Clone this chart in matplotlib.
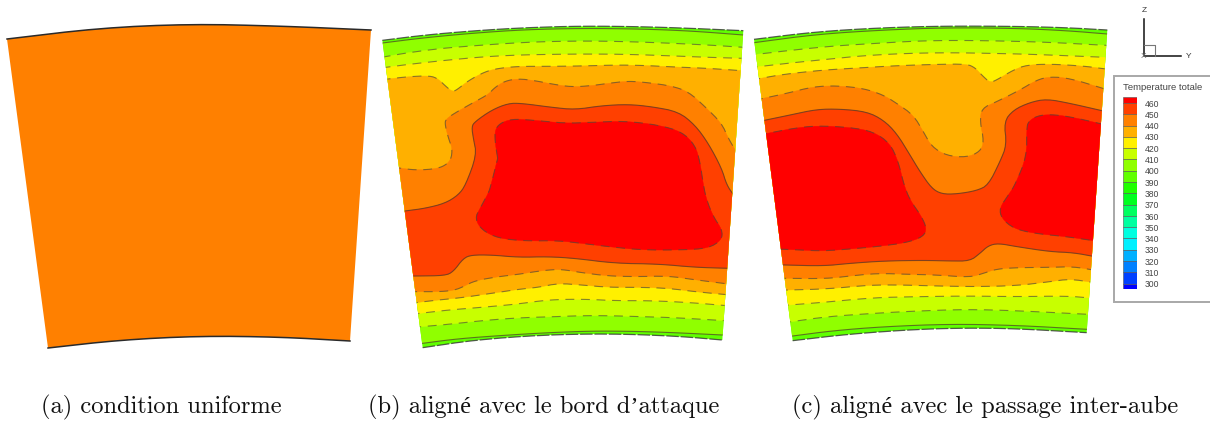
import numpy as np
import matplotlib
matplotlib.use("Agg")
import matplotlib.pyplot as plt
from matplotlib.patches import Polygon, Rectangle

W, H = 1210, 421

# ---------- legend data ----------
levels = [460, 450, 440, 430, 420, 410, 400, 390, 380, 370, 360, 350, 340, 330, 320, 310, 300]
band_colors = ["#FF0000", "#FF4000", "#FF8000", "#FFB000", "#FFF000", "#C8FF00", "#90FF00", "#60FF00",
               "#20FF00", "#00FF20", "#00FF60", "#00FFA0", "#00FFE0", "#00F0FF", "#00B0FF", "#0080FF",
               "#0040FF", "#0000FF"]
legend_title = "Temperature totale"
captions = ["(a) condition uniforme", "(b) aligné avec le bord d\u2019attaque", "(c) aligné avec le passage inter-aube"]

# ---------- digitised geometry, at 3x in crops ----------
# Panel a outline
a_top = [(7, 39), (100, 28), (190, 24), (280, 26), (371, 30)]
a_bot = [(48, 348), (120, 340), (200, 336), (280, 337), (350, 341)]

# Panel b, upper crop origin (375,15), lower crop origin (375,180)
b_edge_top = [(22, 76), (150, 60), (300, 47), (450, 38), (620, 33), (800, 35), (950, 40), (1105, 47)]
b_edge_bot = [(143, 503), (300, 480), (500, 465), (700, 461), (900, 468), (1042, 480)]
b_400_up = [(22, 84), (150, 68), (300, 54), (450, 44), (620, 40), (800, 42), (950, 48), (1105, 60)]
b_410_up = [(48, 122), (100, 113), (200, 100), (300, 92), (400, 85), (500, 80), (620, 78), (720, 79), (850, 83), (1000, 90), (1105, 97)]
b_420_up = [(48, 155), (110, 147), (220, 135), (330, 125), (430, 120), (530, 118), (640, 117), (760, 118), (900, 123), (1000, 127), (1103, 130)]
b_430_up = [(48, 191), (100, 185), (165, 182), (190, 192), (210, 212), (232, 230), (245, 225), (280, 197), (330, 170), (370, 160), (430, 154), (520, 154), (620, 153), (720, 150), (800, 151), (900, 156), (1000, 160), (1100, 167)]
b_440_up = [(80, 460), (120, 465), (170, 463), (205, 455), (228, 435), (232, 400), (222, 375), (210, 330), (212, 312), (250, 288), (300, 260), (340, 238), (360, 217), (390, 198), (430, 191), (480, 197), (530, 207), (590, 216), (650, 212), (700, 205), (760, 198), (820, 203), (890, 213), (940, 230), (990, 275), (1040, 325), (1060, 370), (1085, 412)]
b_450_up_a = [(97, 92), (150, 85), (210, 70), (250, 45), (272, 15)]
b_450_up_b = [(305, 420), (295, 370), (290, 335), (300, 320), (350, 285), (400, 265), (440, 265), (530, 277), (600, 284), (680, 272), (760, 268), (830, 275), (910, 290), (960, 330), (1000, 385), (1040, 460)]
b_450_up_c = [(1055, 15), (1078, 48)]
b_460_a = [(368, 430), (360, 380), (360, 345), (375, 325), (410, 312), (470, 315), (570, 325), (650, 322), (750, 318), (850, 330), (920, 350), (960, 390), (975, 440)]
b_460_b = [(985, 15), (995, 60), (1015, 110), (1042, 150), (1040, 180), (1000, 205), (920, 210), (800, 210), (700, 200), (620, 190), (550, 182), (450, 183), (370, 175), (320, 150), (300, 115), (315, 85), (340, 40), (348, 15)]
b_450_lo = [(124, 288), (210, 287), (235, 275), (265, 235), (290, 225), (350, 225), (430, 232), (520, 230), (600, 235), (720, 250), (850, 252), (960, 262), (1062, 265)]
b_440_lo = [(128, 335), (200, 335), (240, 330), (265, 320), (300, 302), (370, 290), (430, 283), (480, 275), (520, 270), (560, 268), (620, 278), (700, 288), (780, 290), (880, 288), (950, 298), (1060, 312)]
b_430_lo = [(130, 367), (190, 360), (260, 353), (350, 340), (430, 328), (490, 322), (550, 310), (620, 315), (700, 322), (800, 322), (880, 325), (960, 335), (1055, 344)]
b_420_lo = [(135, 400), (220, 390), (320, 382), (420, 373), (500, 362), (560, 358), (640, 358), (720, 362), (830, 362), (950, 368), (1055, 377)]
b_410_lo = [(140, 440), (220, 433), (340, 420), (440, 413), (540, 410), (620, 407), (700, 407), (800, 410), (900, 413), (1050, 422)]
b_400_lo = [(143, 490), (250, 476), (400, 465), (520, 458), (650, 453), (780, 454), (900, 458), (1042, 465)]

# Panel c, upper crop origin (750,15), lower crop origin (750,180)
c_edge_top = [(12, 73), (200, 50), (400, 38), (590, 33), (800, 34), (950, 38), (1072, 45)]
c_edge_bot = [(128, 482), (300, 462), (500, 448), (650, 444), (800, 446), (1010, 458)]
c_400_up = [(12, 83), (200, 58), (400, 45), (590, 38), (800, 40), (950, 47), (1072, 57)]
c_410_up = [(20, 118), (130, 105), (250, 93), (380, 85), (500, 78), (620, 76), (760, 78), (900, 82), (1068, 91)]
c_420_up = [(25, 155), (130, 143), (240, 132), (340, 122), (470, 115), (600, 113), (720, 115), (850, 118), (1068, 127)]
c_430_up = [(32, 190), (100, 178), (220, 165), (340, 158), (440, 152), (560, 148), (650, 147), (675, 158), (695, 180), (720, 203), (740, 195), (790, 165), (830, 150), (900, 147), (1000, 153), (1068, 162)]
c_440_up = [(40, 250), (110, 235), (190, 215), (260, 212), (340, 220), (400, 240), (440, 265), (490, 300), (520, 350), (545, 395), (590, 422), (650, 427), (690, 410), (702, 380), (690, 320), (695, 280), (740, 260), (810, 225), (860, 195), (900, 185), (960, 190), (1065, 222)]
c_450_up_a = [(48, 315), (120, 300), (200, 283), (270, 282), (350, 290), (400, 315), (440, 355), (480, 420), (510, 470)]
c_450_up_b = [(545, 25), (575, 42), (620, 42), (680, 32), (715, 15)]
c_450_up_c = [(750, 440), (770, 390), (762, 320), (790, 285), (840, 262), (890, 252), (960, 265), (1060, 288)]
c_460L_a = [(52, 355), (130, 340), (200, 332), (300, 337), (370, 350), (420, 385), (445, 440)]
c_460L_b = [(462, 15), (480, 60), (515, 110), (530, 145), (520, 170), (470, 188), (380, 200), (300, 207), (220, 213), (150, 210), (102, 208)]
c_460R_a = [(1037, 183), (950, 170), (850, 160), (790, 145), (755, 115), (748, 85), (775, 45), (795, 15)]
c_460R_b = [(830, 425), (830, 340), (835, 320), (860, 303), (900, 298), (960, 305), (1060, 328)]
c_450_lo = [(107, 255), (220, 258), (300, 250), (400, 243), (520, 241), (600, 243), (660, 243), (690, 220), (715, 197), (745, 190), (800, 200), (900, 215), (970, 218), (1035, 230)]
c_440_lo = [(110, 295), (230, 296), (300, 288), (380, 280), (480, 283), (560, 285), (660, 292), (700, 280), (740, 267), (800, 263), (900, 262), (970, 260), (1030, 270)]
c_430_lo = [(115, 330), (230, 327), (360, 315), (460, 315), (560, 318), (680, 320), (800, 317), (900, 305), (960, 297), (1027, 307)]
c_420_lo = [(118, 375), (220, 367), (370, 353), (500, 350), (650, 348), (800, 350), (950, 348), (1022, 354)]
c_410_lo = [(125, 425), (230, 410), (370, 400), (500, 393), (650, 388), (800, 392), (1015, 403)]
c_400_lo = [(128, 468), (250, 452), (400, 440), (600, 432), (800, 436), (1012, 448)]


def crop(pts, ox, oy):
    return np.array(pts, float) / 3.0 + np.array([ox, oy])


def smooth(p, n=2):
    p = np.asarray(p, float)
    for _ in range(n):
        q = 0.75 * p[:-1] + 0.25 * p[1:]
        r = 0.25 * p[:-1] + 0.75 * p[1:]
        m = np.empty((2 * len(q), 2))
        m[0::2], m[1::2] = q, r
        p = np.vstack([p[0], m, p[-1]])
    return p


def extend(p, d=25):
    a = p[0] + (p[0] - p[1]) / np.linalg.norm(p[0] - p[1]) * d
    b = p[-1] + (p[-1] - p[-2]) / np.linalg.norm(p[-1] - p[-2]) * d
    return np.vstack([a, p, b])


fig = plt.figure(figsize=(W / 100, H / 100), dpi=100)
ax = fig.add_axes([0, 0, 1, 1])
ax.set_xlim(0, W)
ax.set_ylim(H, 0)
ax.axis("off")

LINE = dict(color="#4a3a2a", lw=0.8, alpha=0.7)
DASH = dict(color="#4a4a3a", lw=0.8, alpha=0.65, dashes=(8, 6))
col = dict(zip([460, 450, 440, 430, 420, 410, 400, 390], band_colors))


def sector(top, bot):
    p = np.vstack([smooth(top), smooth(bot)[::-1]])
    return Polygon(p, closed=True, transform=ax.transData, fc="none", ec="none")


def band(clip, upper, lower, level, style):
    """Region at or above a level, between an upper and a lower iso-line."""
    u = extend(smooth(upper))
    if lower is None:
        poly = u
        extra = []
    else:
        l = extend(smooth(lower))
        poly = np.vstack([u, l[::-1]])
        extra = [l]
    pg = ax.add_patch(Polygon(poly, closed=True, fc=level, ec=level, lw=0.3, zorder=2))
    pg.set_clip_path(clip)
    for c in [u] + extra:
        ln, = ax.plot(c[:, 0], c[:, 1], zorder=3, **style)
        ln.set_clip_path(clip)


def panel(top, bot, fills):
    clip = sector(top, bot)
    ax.add_patch(clip)
    ax.add_patch(Polygon(np.vstack([smooth(top), smooth(bot)[::-1]]), closed=True,
                         fc=col[390], ec="none", zorder=1))
    for upper, lower, c, style in fills:
        band(clip, upper, lower, c, style)
    for e in (top, bot):
        s = smooth(e)
        ax.plot(s[:, 0], s[:, 1], color="#333333", lw=0.9, dashes=(10, 1.5), alpha=0.8, zorder=4)


# Panel a
a_poly = np.vstack([smooth(a_top), smooth(a_bot)[::-1]])
ax.add_patch(Polygon(a_poly, closed=True, fc="#FF8000", ec="none", zorder=1))
for e in (a_top, a_bot):
    s = smooth(e)
    ax.plot(s[:, 0], s[:, 1], color="#2a2a2a", lw=1.1, zorder=4)

# Panel b
bu = lambda p: crop(p, 375, 15)
bl = lambda p: crop(p, 375, 180)
panel(bu(b_edge_top), bl(b_edge_bot), [
    (bu(b_400_up), bl(b_400_lo), col[400], LINE),
    (bu(b_410_up), bl(b_410_lo), col[410], DASH),
    (bu(b_420_up), bl(b_420_lo), col[420], DASH),
    (bu(b_430_up), bl(b_430_lo), col[430], DASH),
    (bu(b_440_up), bl(b_440_lo), col[440], DASH),
    (np.vstack([bl(b_450_up_a), bu(b_450_up_b), bl(b_450_up_c)]), bl(b_450_lo), col[450], LINE),
])
b_red = np.vstack([bu(b_460_a), bl(b_460_b)])
b_red = np.vstack([b_red, b_red[:1]])
s = smooth(b_red)
ax.add_patch(Polygon(s, closed=True, fc=col[460], ec=col[460], lw=0.3, zorder=2))
ax.plot(s[:, 0], s[:, 1], zorder=3, **DASH)

# Panel c
cu = lambda p: crop(p, 750, 15)
cl = lambda p: crop(p, 750, 180)
panel(cu(c_edge_top), cl(c_edge_bot), [
    (cu(c_400_up), cl(c_400_lo), col[400], LINE),
    (cu(c_410_up), cl(c_410_lo), col[410], DASH),
    (cu(c_420_up), cl(c_420_lo), col[420], DASH),
    (cu(c_430_up), cl(c_430_lo), col[430], DASH),
    (cu(c_440_up), cl(c_440_lo), col[440], DASH),
    (np.vstack([cu(c_450_up_a), cl(c_450_up_b), cu(c_450_up_c)]), cl(c_450_lo), col[450], LINE),
    (np.vstack([cu(c_460L_a), cl(c_460L_b)]), None, col[460], DASH),
    (np.vstack([cl(c_460R_a), cu(c_460R_b)]), None, col[460], DASH),
])

# Captions
for txt, x in zip(captions, [41, 368, 792]):
    ax.text(x, 407, txt, family=["cmr10", "Liberation Serif"], fontsize=17.6, va="center", ha="left", color="#111111")

# Axis triad
ax.plot([1144, 1144, 1181], [19, 56, 56], color="#111111", lw=1.1, solid_joinstyle="miter")
ax.plot([1144, 1155, 1155], [45, 45, 56], color="#777777", lw=0.8)
for t, x, y, c in [("Z", 1144, 10, "#333333"), ("Y", 1189, 56, "#333333"), ("X", 1144, 56, "#777777")]:
    ax.text(x, y, t, family="Liberation Sans", fontsize=6, ha="center", va="center", color=c)

# Legend box
ax.add_patch(Rectangle((1114, 76), 110, 226, fc="white", ec="#a8a8a8", lw=1.4, clip_on=True, zorder=5))
ax.text(1123, 88, legend_title, family="Liberation Sans", fontsize=6.8, va="center", color="#444444", zorder=6)

# Colour scale, on its own temperature axis
y_top, y_bot = 97.35, 289.3
lg = fig.add_axes([1122.7 / W, 1 - y_bot / H, 14 / W, (y_bot - y_top) / H], zorder=10)
lg.set_xlim(0, 1)
lg.set_ylim(295, 465)
lg.axis("off")
edges = [465] + levels + [295]
for hi, lo, c in zip(edges[:-1], edges[1:], band_colors):
    lg.bar(0.5, hi - lo, bottom=lo, width=1, color=c, edgecolor="#555555", linewidth=0.4)
for v in levels:
    lg.text(1.6, v - 1, str(v), family="Liberation Sans", fontsize=6.2, va="center", ha="left",
            color="#444444", clip_on=False)

fig.savefig("out.png", dpi=100)
